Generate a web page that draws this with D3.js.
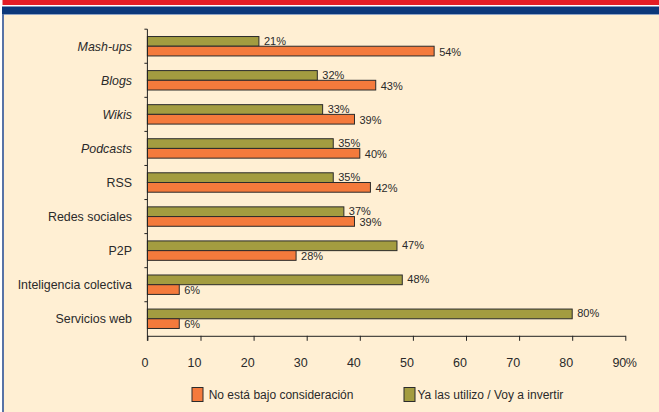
<!DOCTYPE html>
<html>
<head>
<meta charset="utf-8">
<script src="https://cdn.jsdelivr.net/npm/d3@7"></script>
<style>
  body { margin: 0; background: #fff; }
  svg { display: block; font-family: "Liberation Sans", Arial, sans-serif; }
</style>
</head>
<body>
<div id="plot"></div>
<script>
//Set Height and Width Vars;
const w = 659;
const h = 412;

//Data;
const categories = ["Mash-ups", "Blogs", "Wikis", "Podcasts", "RSS", "Redes sociales", "P2P", "Inteligencia colectiva", "Servicios web"];
const italicCats = ["Mash-ups", "Blogs", "Wikis", "Podcasts"];
const yaUtilizo = [21, 32, 33, 35, 35, 37, 47, 48, 80];
const noConsidera = [54, 43, 39, 40, 42, 39, 28, 6, 6];
const tickValues = [0, 10, 20, 30, 40, 50, 60, 70, 80, 90];
const seriesNames = ["Ya las utilizo / Voy a invertir", "No está bajo consideración"];

//Define colors;
const green = "#A39C40";
const orange = "#F47A3C";
const textColor = "#2a2a2a";

//Initialize SVG;
const svg = d3.select("#plot")
  .append("svg")
    .attr("width", w)
    .attr("height", h);

//Frame;
svg.append("rect").attr("x", 0).attr("y", 0).attr("width", w).attr("height", h).attr("fill", "#fff");
svg.append("rect").attr("x", 2.5).attr("y", 0).attr("width", w).attr("height", 5).attr("fill", "#E31D25");
svg.append("rect").attr("x", 2).attr("y", 6.5).attr("width", w).attr("height", 7.5).attr("fill", "#0B377A");
svg.append("rect").attr("x", 2).attr("y", 14).attr("width", w).attr("height", h - 14).attr("fill", "#FFEFD3");
svg.append("rect").attr("x", 2).attr("y", 14).attr("width", w).attr("height", 1).attr("fill", "#8FA3C4");
svg.append("rect").attr("x", 2).attr("y", 14).attr("width", 2).attr("height", h - 14).attr("fill", "#5873A6");

//Scales;
const xScale = d3.scaleLinear()
  .domain([0, 90])
  .range([147.4, 625.3]);

const yScale = d3.scaleBand()
  .domain(categories)
  .range([29.2, 335.8])
  .paddingInner(0.43)
  .paddingOuter(0.215);

const sub = d3.scaleBand()
  .domain([0, 1])
  .range([0, yScale.bandwidth()]);

const step = yScale.step();
const bandTop = d3.min(yScale.range());
const x0 = xScale(0);
const axisY = bandTop + step * categories.length;

//Bars;
const rows = categories.map(function(c, i) {
  return { cat: c, vals: [yaUtilizo[i], noConsidera[i]] };
});

const plot = svg.append("g").attr("class", "plotArea");

rows.forEach(function(r) {
  r.vals.forEach(function(v, k) {
    const yTop = yScale(r.cat) + sub(k);
    plot.append("rect")
      .attr("x", x0)
      .attr("y", yTop)
      .attr("width", xScale(v) - x0)
      .attr("height", sub.bandwidth())
      .attr("fill", k === 0 ? green : orange)
      .attr("stroke", "#2b2b2b")
      .attr("stroke-width", 1);

    plot.append("text")
      .attr("x", xScale(v) + 5)
      .attr("y", yTop + sub.bandwidth() / 2 + (k === 0 ? -0.5 : 1))
      .attr("dy", "0.35em")
      .attr("font-size", "11px")
      .attr("fill", textColor)
      .text(v + "%");
  });
});

//Category Labels;
svg.append("g")
  .selectAll("text")
  .data(categories)
  .enter()
  .append("text")
    .attr("x", 132)
    .attr("y", function(d) { return yScale(d) + yScale.bandwidth() / 2; })
    .attr("dy", "0.35em")
    .attr("text-anchor", "end")
    .attr("font-size", "12.4px")
    .attr("font-style", function(d) { return italicCats.indexOf(d) >= 0 ? "italic" : "normal"; })
    .attr("fill", textColor)
    .text(function(d) { return d; });

//Y Axis line and ticks;
const yAxisG = svg.append("g").attr("stroke", "#222").attr("stroke-width", 1);
yAxisG.append("line")
  .attr("x1", x0).attr("x2", x0)
  .attr("y1", bandTop).attr("y2", axisY + 5);
yAxisG.selectAll("line.tk")
  .data(d3.range(categories.length))
  .enter()
  .append("line")
    .attr("class", "tk")
    .attr("x1", x0 - 3).attr("x2", x0)
    .attr("y1", function(i) { return bandTop + i * step; })
    .attr("y2", function(i) { return bandTop + i * step; });

//X Axis;
const xAxis = d3.axisBottom(xScale)
  .tickValues(tickValues)
  .tickSize(5)
  .tickSizeOuter(0)
  .tickFormat(function(d) { return d; });

const xg = svg.append("g")
  .attr("transform", "translate(0," + axisY + ")")
  .call(xAxis);

xg.attr("text-anchor", "end").attr("font-size", 12.5).attr("font-family", null);
xg.select(".domain").attr("stroke", "#222");
xg.selectAll(".tick line").attr("stroke", "#222");
xg.selectAll(".tick text")
  .attr("x", 0.5)
  .attr("y", 27)
  .attr("dy", "0.35em")
  .style("text-anchor", "end")
  .attr("fill", textColor);

//Percent sign after last tick;
xg.append("text")
  .attr("x", xScale(tickValues[tickValues.length - 1]) + 0.5)
  .attr("y", 27)
  .attr("dy", "0.35em")
  .style("text-anchor", "start")
  .attr("fill", textColor)
  .text("%");

//Legend;
const legend = [
  { name: seriesNames[1], color: orange, x: 192, tx: 208.7 },
  { name: seriesNames[0], color: green, x: 404, tx: 417.5 }
];

const lg = svg.append("g");
legend.forEach(function(d) {
  lg.append("rect")
    .attr("x", d.x).attr("y", 387.5)
    .attr("width", 11).attr("height", 14)
    .attr("fill", d.color)
    .attr("stroke", "#2b2b2b");
  lg.append("text")
    .attr("x", d.tx).attr("y", 394.5)
    .attr("dy", "0.35em")
    .attr("font-size", "12px")
    .attr("fill", textColor)
    .text(d.name);
});
</script>
</body>
</html>
